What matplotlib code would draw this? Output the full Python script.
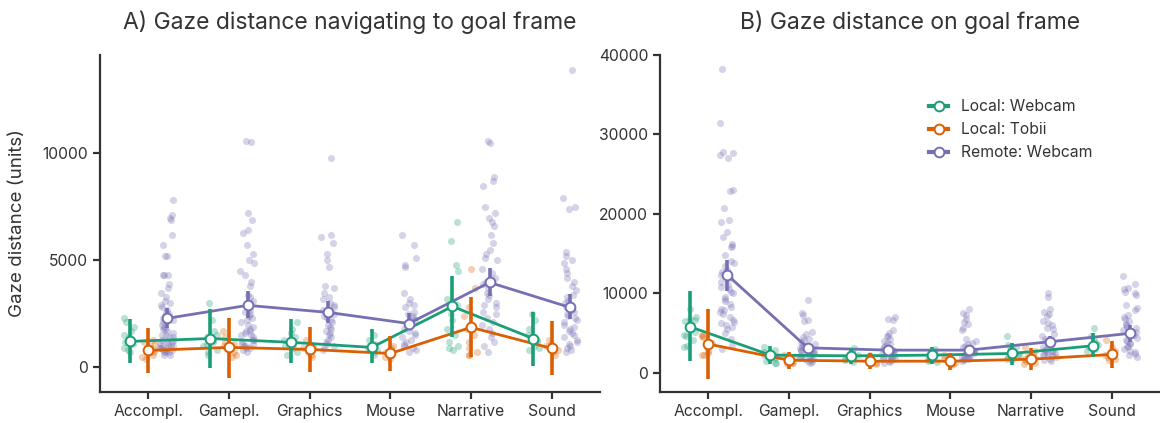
import numpy as np
import matplotlib.pyplot as plt
from matplotlib.lines import Line2D

plt.rcParams["font.family"] = ["Inter", "DejaVu Sans"]

categories = ["Accompl.", "Gamepl.", "Graphics", "Mouse", "Narrative", "Sound"]
groups = ["Local: Webcam", "Local: Tobii", "Remote: Webcam"]
colors = ["#1b9e77", "#d95f02", "#7570b3"]

# --- A) navigating to goal frame -------------------------------------------
nav_points = {
    "Local: Webcam": [
        [2300, 2100, 1900, 1700, 1500, 1400, 1300, 1200, 1100, 900, 800, 700],
        [3000, 2200, 1700, 1500, 1400, 1300, 1200, 1100, 1000, 800, 700, 600],
        [2100, 1800, 1600, 1400, 1300, 1200, 1100, 1000, 900, 700, 600],
        [1500, 1300, 1100, 1000, 900, 800, 700, 600],
        [6800, 5900, 4800, 4500, 3200, 2900, 2500, 2200, 1800, 1500, 1200, 1000, 900, 800],
        [2500, 2200, 1800, 1500, 1300, 1200, 1000, 900, 800],
    ],
    "Local: Tobii": [
        [1300, 1200, 1100, 1000, 900, 800, 700, 600, 500, 400],
        [1700, 1400, 1200, 1100, 1000, 900, 800, 700, 600, 500],
        [1300, 1100, 1000, 900, 800, 700, 600, 500],
        [1000, 900, 800, 700, 600, 500, 400],
        [4600, 3700, 2800, 2400, 2000, 1800, 1500, 1200, 900, 700, 600, 600],
        [1300, 1100, 1000, 900, 800, 700, 600],
    ],
    "Remote: Webcam": [
        [7800, 7100, 7000, 6900, 6200, 5700, 5200, 5200, 4300, 4300, 4300, 3900,
         3700, 3500, 3300, 3100, 3000, 2900, 2800, 2700, 2600, 2500, 2400, 2300,
         2200, 2100, 2000, 1900, 1800, 1800, 1700, 1600, 1500, 1500, 1400, 1400,
         1300, 1300, 1200, 1200, 1100, 1100, 1000, 1000, 1000, 900, 900, 900,
         800, 800, 800, 700, 700, 700, 600, 600],
        [10600, 10550, 7200, 6900, 6400, 6300, 5700, 5300, 5000, 4900, 4500, 4300,
         4000, 3800, 3400, 3300, 3100, 3000, 2900, 2800, 2700, 2600, 2500, 2400,
         2300, 2200, 2100, 2000, 1900, 1800, 1700, 1700, 1600, 1500, 1500, 1400,
         1300, 1300, 1200, 1100, 1100, 1000, 1000, 900, 900, 800, 700],
        [9800, 6200, 6100, 5800, 5300, 5000, 4700, 3800, 3700, 3500, 3300, 3200,
         3000, 2900, 2800, 2700, 2600, 2500, 2400, 2300, 2200, 2100, 2000, 1900,
         1800, 1700, 1600, 1500, 1400, 1300, 1200, 1100, 1000, 900, 800],
        [6200, 5700, 5100, 4800, 4700, 3500, 3200, 3000, 2900, 2800, 2600, 2500,
         2400, 2300, 2200, 2100, 2000, 1900, 1800, 1700, 1600, 1500, 1400, 1300,
         1200, 1100, 1000, 900, 800, 700],
        [10600, 10500, 8900, 8700, 8500, 7500, 7200, 7000, 6800, 6600, 6200, 5800,
         5500, 5300, 5100, 5000, 4600, 4400, 4200, 4000, 3900, 3700, 3500, 3400,
         3200, 3000, 2900, 2800, 2600, 2500, 2300, 2100, 2000, 1800, 1600, 1400,
         1200, 1000, 700],
        [13900, 7900, 7500, 7400, 5400, 5200, 5000, 4900, 4600, 4400, 4200, 4000,
         3800, 3600, 3400, 3300, 3100, 3000, 2800, 2700, 2600, 2500, 2400, 2300,
         2200, 2100, 2000, 1900, 1800, 1700, 1600, 1500, 1400, 1300, 1200, 1100,
         1000, 900, 800, 700],
    ],
}
nav_mean = {
    "Local: Webcam": [1215, 1350, 1170, 935, 2850, 1350],
    "Local: Tobii": [795, 935, 840, 650, 1870, 890],
    "Remote: Webcam": [2290, 2900, 2570, 2050, 3970, 2800],
}
nav_lo = {
    "Local: Webcam": [190, -50, 190, 190, 1400, 50],
    "Local: Tobii": [-280, -510, -230, -190, 470, -370],
    "Remote: Webcam": [1820, 2290, 2060, 1730, 3360, 2240],
}
nav_hi = {
    "Local: Webcam": [2240, 2710, 2240, 1780, 4250, 2570],
    "Local: Tobii": [1820, 2290, 1870, 1450, 3270, 2150],
    "Remote: Webcam": [2760, 3550, 3080, 2520, 4630, 3410],
}

# --- B) on goal frame -------------------------------------------------------
goal_points = {
    "Local: Webcam": [
        [8100, 7000, 6800, 6600, 6500, 5200, 4800, 4600, 4200, 3400, 3300],
        [3200, 2900, 2600, 2300, 2100, 1900, 1700, 1500, 1300, 1200],
        [3100, 2700, 2400, 2200, 2000, 1800, 1600, 1400],
        [3000, 2700, 2400, 2200, 2000, 1800, 1600, 1500, 1400],
        [4700, 3500, 3200, 3000, 2700, 2400, 2200, 2000, 1800, 1600],
        [5600, 4600, 4200, 3800, 3500, 3200, 3000, 2700],
    ],
    "Local: Tobii": [
        [4800, 4600, 4500, 3800, 3300, 2700, 2500, 2300, 2200],
        [2300, 2000, 1800, 1600, 1500, 1300, 1200, 1100],
        [2200, 1900, 1700, 1500, 1400, 1200, 1100],
        [2300, 1900, 1700, 1500, 1300, 1100, 1000],
        [3300, 2800, 2400, 2100, 1900, 1700, 1500, 1300, 1100],
        [4100, 3200, 2800, 2500, 2200, 2000, 1800, 1600],
    ],
    "Remote: Webcam": [
        [38200, 31400, 27800, 27700, 27400, 27000, 23000, 22900, 20800, 19300,
         19000, 17700, 17100, 16200, 16000, 15900, 14800, 14100, 13800, 13400,
         13000, 12700, 12300, 11900, 11400, 11000, 10800, 10500, 10200, 10000,
         9600, 9300, 9000, 8700, 8300, 8000, 7900, 7700, 7400, 7000, 6700, 6400,
         6300, 6000, 5800, 5500, 5000, 4300, 3500, 3000],
        [9200, 7500, 7300, 6700, 6500, 5200, 4900, 4500, 4300, 4100, 3900, 3700,
         3500, 3300, 3200, 3100, 3000, 2900, 2800, 2700, 2600, 2500, 2400, 2300,
         2200, 2100, 2000, 1900, 1800, 1700, 1600, 1500, 1400, 1300],
        [7000, 6800, 6600, 5400, 5000, 4700, 4600, 4300, 4000, 3800, 3600, 3400,
         3200, 3000, 2900, 2800, 2700, 2600, 2500, 2400, 2300, 2200, 2100, 2000,
         1900, 1800, 1700, 1600, 1500, 1400, 1300],
        [8000, 7600, 7300, 6800, 6400, 6100, 5600, 5400, 4300, 4000, 3800, 3600,
         3400, 3200, 3100, 3000, 2900, 2800, 2700, 2600, 2500, 2400, 2300, 2200,
         2100, 2000, 1900, 1800, 1700, 1600, 1500],
        [10000, 9600, 8000, 7700, 7400, 7100, 6500, 6300, 6000, 5700, 5500, 4900,
         4600, 4300, 4000, 3800, 3600, 3400, 3200, 3000, 2900, 2800, 2700, 2600,
         2500, 2400, 2300, 2200, 2100, 2000, 1800, 1600, 1500],
        [12200, 11200, 10700, 10500, 10200, 10000, 9800, 8600, 8200, 7900, 7300,
         7000, 6800, 6500, 6200, 6000, 5800, 5600, 5400, 5200, 5000, 4800, 4600,
         4400, 4200, 4000, 3800, 3600, 3400, 3200, 3000, 2800, 2600, 2400, 2200,
         2000],
    ],
}
goal_mean = {
    "Local: Webcam": [5820, 2240, 2150, 2240, 2450, 3420],
    "Local: Tobii": [3630, 1600, 1480, 1480, 1730, 2320],
    "Remote: Webcam": [12370, 3160, 2870, 2870, 3920, 4980],
}
goal_lo = {
    "Local: Webcam": [1520, 1180, 1180, 1180, 1050, 2020],
    "Local: Tobii": [-720, 460, 460, 420, 330, 670],
    "Remote: Webcam": [10340, 2450, 2200, 2200, 3200, 3920],
}
goal_hi = {
    "Local: Webcam": [10250, 3420, 3080, 3290, 3710, 5060],
    "Local: Tobii": [8010, 2650, 2450, 2530, 3160, 4050],
    "Remote: Webcam": [14260, 3710, 3500, 3500, 4600, 6080],
}

text_col = "#333333"
dodge = 0.23
rng = np.random.default_rng(3)


def draw_panel(ax, points, mean, lo, hi, title):
    x = np.arange(len(categories))
    for gi, g in enumerate(groups):
        c = colors[gi]
        off = (gi - 1) * dodge
        # jittered raw observations
        for ci, vals in enumerate(points[g]):
            jx = ci + off + rng.uniform(-0.09, 0.09, len(vals))
            ax.scatter(jx, vals, s=26, color=c, alpha=0.3, lw=0, zorder=1)
        ax.plot(x + off, mean[g], color=c, lw=2, zorder=3)
        ax.vlines(x + off, lo[g], hi[g], color=c, lw=2.6, zorder=4)
        ax.plot(x + off, mean[g], ls="none", marker="o", ms=7, mfc="white",
                mec=c, mew=1.4, zorder=5)
    ax.set_xticks(x)
    ax.set_xticklabels(categories)
    ax.set_xlim(-0.6, len(categories) - 0.4)
    ax.set_title(title, fontsize=16.5, color=text_col, pad=19)
    for s in ["top", "right"]:
        ax.spines[s].set_visible(False)
    for s in ["left", "bottom"]:
        ax.spines[s].set_linewidth(1.6)
        ax.spines[s].set_color(text_col)
    ax.tick_params(colors=text_col, labelsize=11.3, width=1.6, length=5)


fig = plt.figure(figsize=(11.6, 4.23), dpi=100)
ax1 = fig.add_axes([100 / 1160, 1 - 392 / 423, 500 / 1160, 337 / 423])
ax2 = fig.add_axes([660 / 1160, 1 - 392 / 423, 500 / 1160, 337 / 423])

draw_panel(ax1, nav_points, nav_mean, nav_lo, nav_hi,
           "A) Gaze distance navigating to goal frame")
ax1.set_ylim(-1150, 14600)
ax1.set_yticks([0, 5000, 10000])
ax1.set_ylabel("Gaze distance (units)", fontsize=13.5, color=text_col, labelpad=12)

draw_panel(ax2, goal_points, goal_mean, goal_lo, goal_hi,
           "B) Gaze distance on goal frame")
ax2.set_ylim(-2400, 40000)
ax2.set_yticks([0, 10000, 20000, 30000, 40000])

handles = [Line2D([], [], color=c, lw=3, marker="o", ms=7, mfc="white",
                  mec=c, mew=1.4) for c in colors]
leg = ax2.legend(handles, groups, loc="upper left", bbox_to_anchor=(0.51, 0.91),
                 frameon=False, fontsize=11.3, handlelength=1.2,
                 labelspacing=0.5, labelcolor=text_col)

fig.savefig("out.png", dpi=100)
